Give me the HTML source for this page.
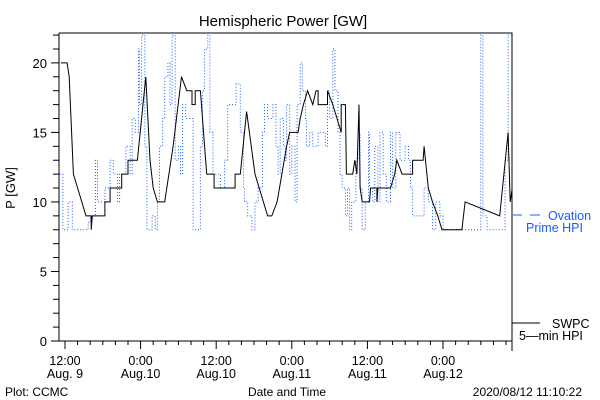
<!DOCTYPE html>
<html><head><meta charset="utf-8"><style>
html,body{margin:0;padding:0;background:#fff;}
svg{display:block;font-family:"Liberation Sans",sans-serif;}
</style></head><body>
<svg id="chart" width="600" height="400" viewBox="0 0 600 400">
<defs><clipPath id="plotclip"><rect x="59" y="33" width="453" height="308"/></clipPath></defs>
<text x="283" y="26" font-size="15" text-anchor="middle">Hemispheric Power [GW]</text>
<text x="0" y="0" font-size="13" text-anchor="middle" transform="translate(15,188) rotate(-90)">P [GW]</text>
<g id="axes"></g>
<g id="series" clip-path="url(#plotclip)"></g>
<g>
 <line x1="513" y1="215" x2="522" y2="215" stroke="#1a5cff" stroke-width="1"/>
 <line x1="530" y1="215" x2="540" y2="215" stroke="#1a5cff" stroke-width="1"/>
 <text x="548" y="220" font-size="12.5" fill="#1a5cff">Ovation</text>
 <text x="526" y="232" font-size="12.5" fill="#1a5cff">Prime HPI</text>
 <line x1="512" y1="323" x2="540" y2="323" stroke="#000" stroke-width="1"/>
 <text x="552" y="328" font-size="12.5">SWPC</text>
 <text x="519" y="340" font-size="12.5">5—min HPI</text>
</g>
<text x="5" y="396" font-size="12">Plot: CCMC</text>
<text x="287" y="396" font-size="12" text-anchor="middle">Date and Time</text>
<text x="582" y="396" font-size="12" text-anchor="end">2020/08/12 11:10:22</text>
</svg>
<script>
// time unit: 100 minutes since Aug 9 12:00
const yTicks=[0,5,10,15,20];
const xTickPos=[0,7.2,14.4,21.6,28.8,36];
const xTickTimes=["12:00","0:00","12:00","0:00","12:00","0:00"];
const xTickDates=["Aug. 9","Aug.10","Aug.10","Aug.11","Aug.11","Aug.12"];
const swpcT=[-0.4,0.2,0.4,0.8,1.2,1.6,2.0,2.5,2.5,2.6,3.8,3.8,4.3,4.3,5.4,5.4,6.0,6.0,6.9,7.7,8.1,8.4,8.8,9.5,10.3,11.1,11.6,12.1,12.1,12.4,12.4,12.9,13.5,14.2,14.2,15.0,16.2,16.2,16.7,17.3,18.1,18.9,19.3,19.7,20.2,21.1,21.4,22.2,22.4,22.7,23.1,23.6,23.9,24.1,24.1,25.0,25.0,25.5,25.9,26.3,26.3,26.7,26.8,27.4,27.6,27.8,28.0,28.1,28.3,29.0,29.1,29.7,29.7,29.8,31.0,31.4,31.6,32.1,33.1,33.1,34.1,34.2,34.6,35.0,35.5,35.9,37.8,38.1,41.4,42.2,42.4,42.6];
const swpcV=[20,20,19,12,11,10,9,9,8,9,9,10,10,11,11,12,12,13,13,19,13,11,10,10,14,19,18,18,17,17,18,18,12,12,11,11,11,12,12,16.5,12,10,9,9,10,14,15,15,16,17,18,17,18,18,17,17,18,17,16,15,17,17,12,12,13,12,17,11,10,10,11,11,10,11,11,12,13,12,12,13,13,14,11,10,9,8,8,10,9,15,10,11];
const ovT=[-0.5,-0.2,0.3,0.7,1.9,2.2,2.4,2.9,3.1,3.8,4.3,4.6,5.0,5.2,5.8,6.2,6.4,6.7,7.0,7.1,7.3,7.6,7.8,8.3,8.6,8.8,9.0,9.3,9.5,9.8,10.0,10.2,10.5,10.8,11.0,11.2,11.5,11.9,12.2,12.6,12.9,13.1,13.3,13.6,13.8,14.1,14.5,14.8,15.2,15.5,15.9,16.3,16.7,17.0,17.1,17.4,17.8,18.1,18.4,18.8,19.0,19.3,19.8,20.1,20.3,20.5,20.8,21.0,21.1,21.4,21.6,21.9,22.1,22.4,22.6,22.9,23.0,23.3,23.6,24.1,24.5,24.8,25.0,25.2,25.5,25.7,26.0,26.2,26.4,26.7,26.9,27.1,27.3,27.7,27.9,28.1,28.3,28.6,28.9,29.0,29.3,29.5,29.8,30.0,30.3,30.6,31.0,31.2,31.5,31.9,32.4,32.7,32.9,33.1,33.6,34.2,34.6,35.0,35.3,35.7,36.0,39.0,39.5,39.6,39.8,40.2,41.4,41.9,42.2,42.5];
const ovV=[12,8,10,8,8,8.5,9,13,10,11,13,12,10,12,14,12,16,15,21,17,22,14,8,9,8,10,14,16,19,20,17,22,13,14,12,17,16,16,8,8,14,18,21,22,15,12,12,11,13,17,17,18.5,15,11,10,9,8,10,11,15,17,16,17,14,12,16,14,13,17,12,14,10,17,20,18,16,14,15,14,15,15,14,18,16,21,18,15,12,11,9,11,8,10,13,15,11,8,10,15,11,10,14,10,15,12,10,15,11,15,13,14,13,11,9,9,11,10,8,10,9,8,8,8,22,9,8,8,13,22,22];

const X0=59,X1=512,Y0=341,Y1=33;
const tMin=-0.57,tMax=42.57,vMin=0,vMax=22.15;
const sx=t=>X0+(t-tMin)/(tMax-tMin)*(X1-X0);
const sy=v=>Y0-(v-vMin)/(vMax-vMin)*(Y0-Y1);
const NS="http://www.w3.org/2000/svg";
function mk(tag,attrs,parent){const e=document.createElementNS(NS,tag);for(const k in attrs)e.setAttribute(k,attrs[k]);parent.appendChild(e);return e;}
const axes=document.getElementById('axes');
const frame=mk('path',{d:`M${X0},${Y1}H${X1}V${Y0+10}M${X0},${Y1}V${Y0}H${X1}`,fill:'none',stroke:'#000','stroke-width':1},axes);


for(let v=0;v<=22;v++){
  const len=(v%5===0)?8:6;
  const tk=mk('line',{x1:X0-len,x2:X0,y1:sy(v),y2:sy(v),stroke:'#000'},axes);
  
  
}
yTicks.forEach(v=>{
  const t=mk('text',{x:47,y:sy(v)+5,'font-size':13,'text-anchor':'end'},axes);t.textContent=v;
  
  
});
for(let i=0;i<=35;i++){
  const h=i*1.2;
  if(h>tMax)break;
  const major=i%6===0;
  const tk=mk('line',{x1:sx(h),x2:sx(h),y1:Y0,y2:Y0+(major?8:4),stroke:'#000'},axes);
  
  
}
xTickPos.forEach((h,i)=>{
  if(h>tMax)return;
  const a=mk('text',{x:sx(h),y:Y0+24,'font-size':12.5,'text-anchor':'middle'},axes);a.textContent=xTickTimes[i];
  
  
  const b=mk('text',{x:sx(h),y:Y0+37,'font-size':12.5,'text-anchor':'middle'},axes);b.textContent=xTickDates[i];
  
  
});
const ser=document.getElementById('series');
function stepPath(T,V){let d=`M${sx(T[0]).toFixed(1)},${sy(V[0]).toFixed(1)}`;for(let i=1;i<T.length;i++){d+=`L${sx(T[i]).toFixed(1)},${sy(V[i-1]).toFixed(1)}L${sx(T[i]).toFixed(1)},${sy(V[i]).toFixed(1)}`;}return d;}
function linePath(T,V){return T.map((t,i)=>(i?'L':'M')+sx(t).toFixed(1)+','+sy(V[i]).toFixed(1)).join('');}
const ov=mk('path',{d:stepPath(ovT,ovV),fill:'none',stroke:'#1a5cff','stroke-width':1,'stroke-dasharray':'1 2'},ser);


const sw=mk('path',{d:linePath(swpcT,swpcV),fill:'none',stroke:'#000','stroke-width':1},ser);


</script>
</body></html>
